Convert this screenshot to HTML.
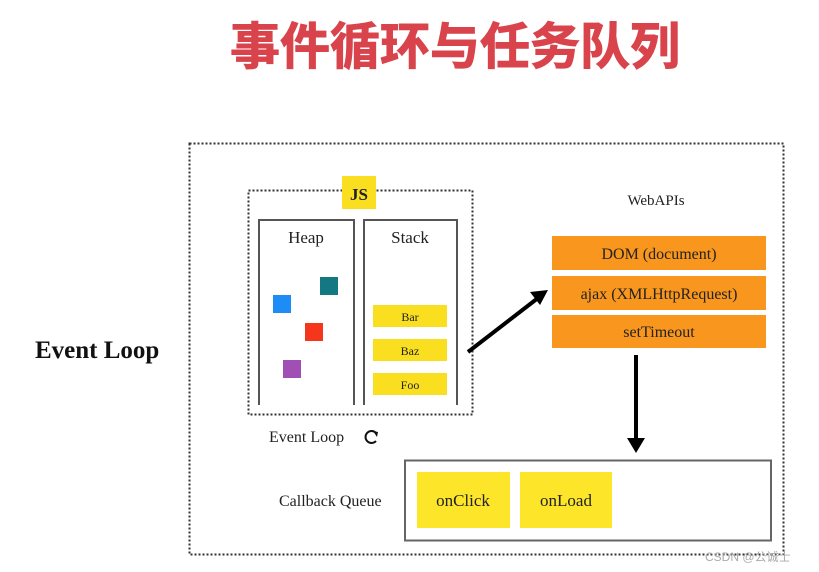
<!DOCTYPE html>
<html><head><meta charset="utf-8"><style>
html,body{margin:0;padding:0;background:#fff;}
svg{display:block;}
text{font-family:"Liberation Serif",serif;fill:#222;}
</style></head><body>
<svg width="819" height="572" viewBox="0 0 819 572" xmlns="http://www.w3.org/2000/svg">
<text x="455" y="64" text-anchor="middle" style="font-family:'Liberation Sans','Noto Sans CJK SC',sans-serif;font-weight:bold;font-size:50px;fill:#d9444c;stroke:#d9444c;stroke-width:1px">事件循环与任务队列</text>
<rect x="189.5" y="143.5" width="594" height="411" fill="none" stroke="#333" stroke-width="2" stroke-dasharray="2,2"/>
<text x="35" y="358" style="font-weight:bold;font-size:25px;fill:#111">Event Loop</text>
<rect x="248.5" y="190.5" width="224" height="224" fill="none" stroke="#333" stroke-width="2" stroke-dasharray="2,2"/>
<rect x="342" y="176" width="34" height="33" fill="#fadf20"/>
<text x="359" y="200" text-anchor="middle" style="font-weight:bold;font-size:17px">JS</text>
<path d="M259 405 V220 H354 V405" fill="none" stroke="#555" stroke-width="2"/>
<path d="M364 405 V220 H457 V405" fill="none" stroke="#555" stroke-width="2"/>
<text x="306" y="243" text-anchor="middle" style="font-size:17px">Heap</text>
<text x="410" y="243" text-anchor="middle" style="font-size:17px">Stack</text>
<rect x="320" y="277" width="18" height="18" fill="#137882"/>
<rect x="273" y="295" width="18" height="18" fill="#1e8cf5"/>
<rect x="305" y="323" width="18" height="18" fill="#f5361d"/>
<rect x="283" y="360" width="18" height="18" fill="#a050b4"/>
<rect x="373" y="305" width="74" height="22" fill="#fadf20"/>
<rect x="373" y="339" width="74" height="22" fill="#fadf20"/>
<rect x="373" y="373" width="74" height="22" fill="#fadf20"/>
<text x="410" y="321" text-anchor="middle" style="font-size:12px">Bar</text>
<text x="410" y="355" text-anchor="middle" style="font-size:12px">Baz</text>
<text x="410" y="389" text-anchor="middle" style="font-size:12px">Foo</text>
<text x="269" y="442" style="font-size:16px">Event Loop</text>
<path d="M376 433 A6 6 0 1 0 376 441" fill="none" stroke="#111" stroke-width="2"/>
<path d="M373 431 L378 432 L377 437 Z" fill="#111"/>
<text x="656" y="205" text-anchor="middle" style="font-size:15px">WebAPIs</text>
<rect x="552" y="236" width="214" height="34" fill="#f8961e"/>
<rect x="552" y="276" width="214" height="34" fill="#f8961e"/>
<rect x="552" y="315" width="214" height="33" fill="#f8961e"/>
<text x="659" y="259" text-anchor="middle" style="font-size:16px">DOM (document)</text>
<text x="659" y="299" text-anchor="middle" style="font-size:16px">ajax (XMLHttpRequest)</text>
<text x="659" y="337" text-anchor="middle" style="font-size:16px">setTimeout</text>
<line x1="468" y1="352" x2="538" y2="298" stroke="#000" stroke-width="4"/>
<path d="M548 290 L530 292 L540 305 Z" fill="#000"/>
<line x1="636" y1="355" x2="636" y2="440" stroke="#000" stroke-width="4"/>
<path d="M627 438 L645 438 L636 453 Z" fill="#000"/>
<rect x="405" y="460.5" width="366" height="80" fill="none" stroke="#666" stroke-width="2"/>
<text x="279" y="506" style="font-size:16px">Callback Queue</text>
<rect x="417" y="472" width="93" height="56" fill="#fde62a"/>
<rect x="520" y="472" width="92" height="56" fill="#fde62a"/>
<text x="463" y="506" text-anchor="middle" style="font-size:17px">onClick</text>
<text x="566" y="506" text-anchor="middle" style="font-size:17px">onLoad</text>
<text x="705" y="561" style="font-family:'Liberation Sans','Noto Sans CJK SC',sans-serif;font-size:12px;fill:#aaa">CSDN @公诚士</text>
</svg>
</body></html>
